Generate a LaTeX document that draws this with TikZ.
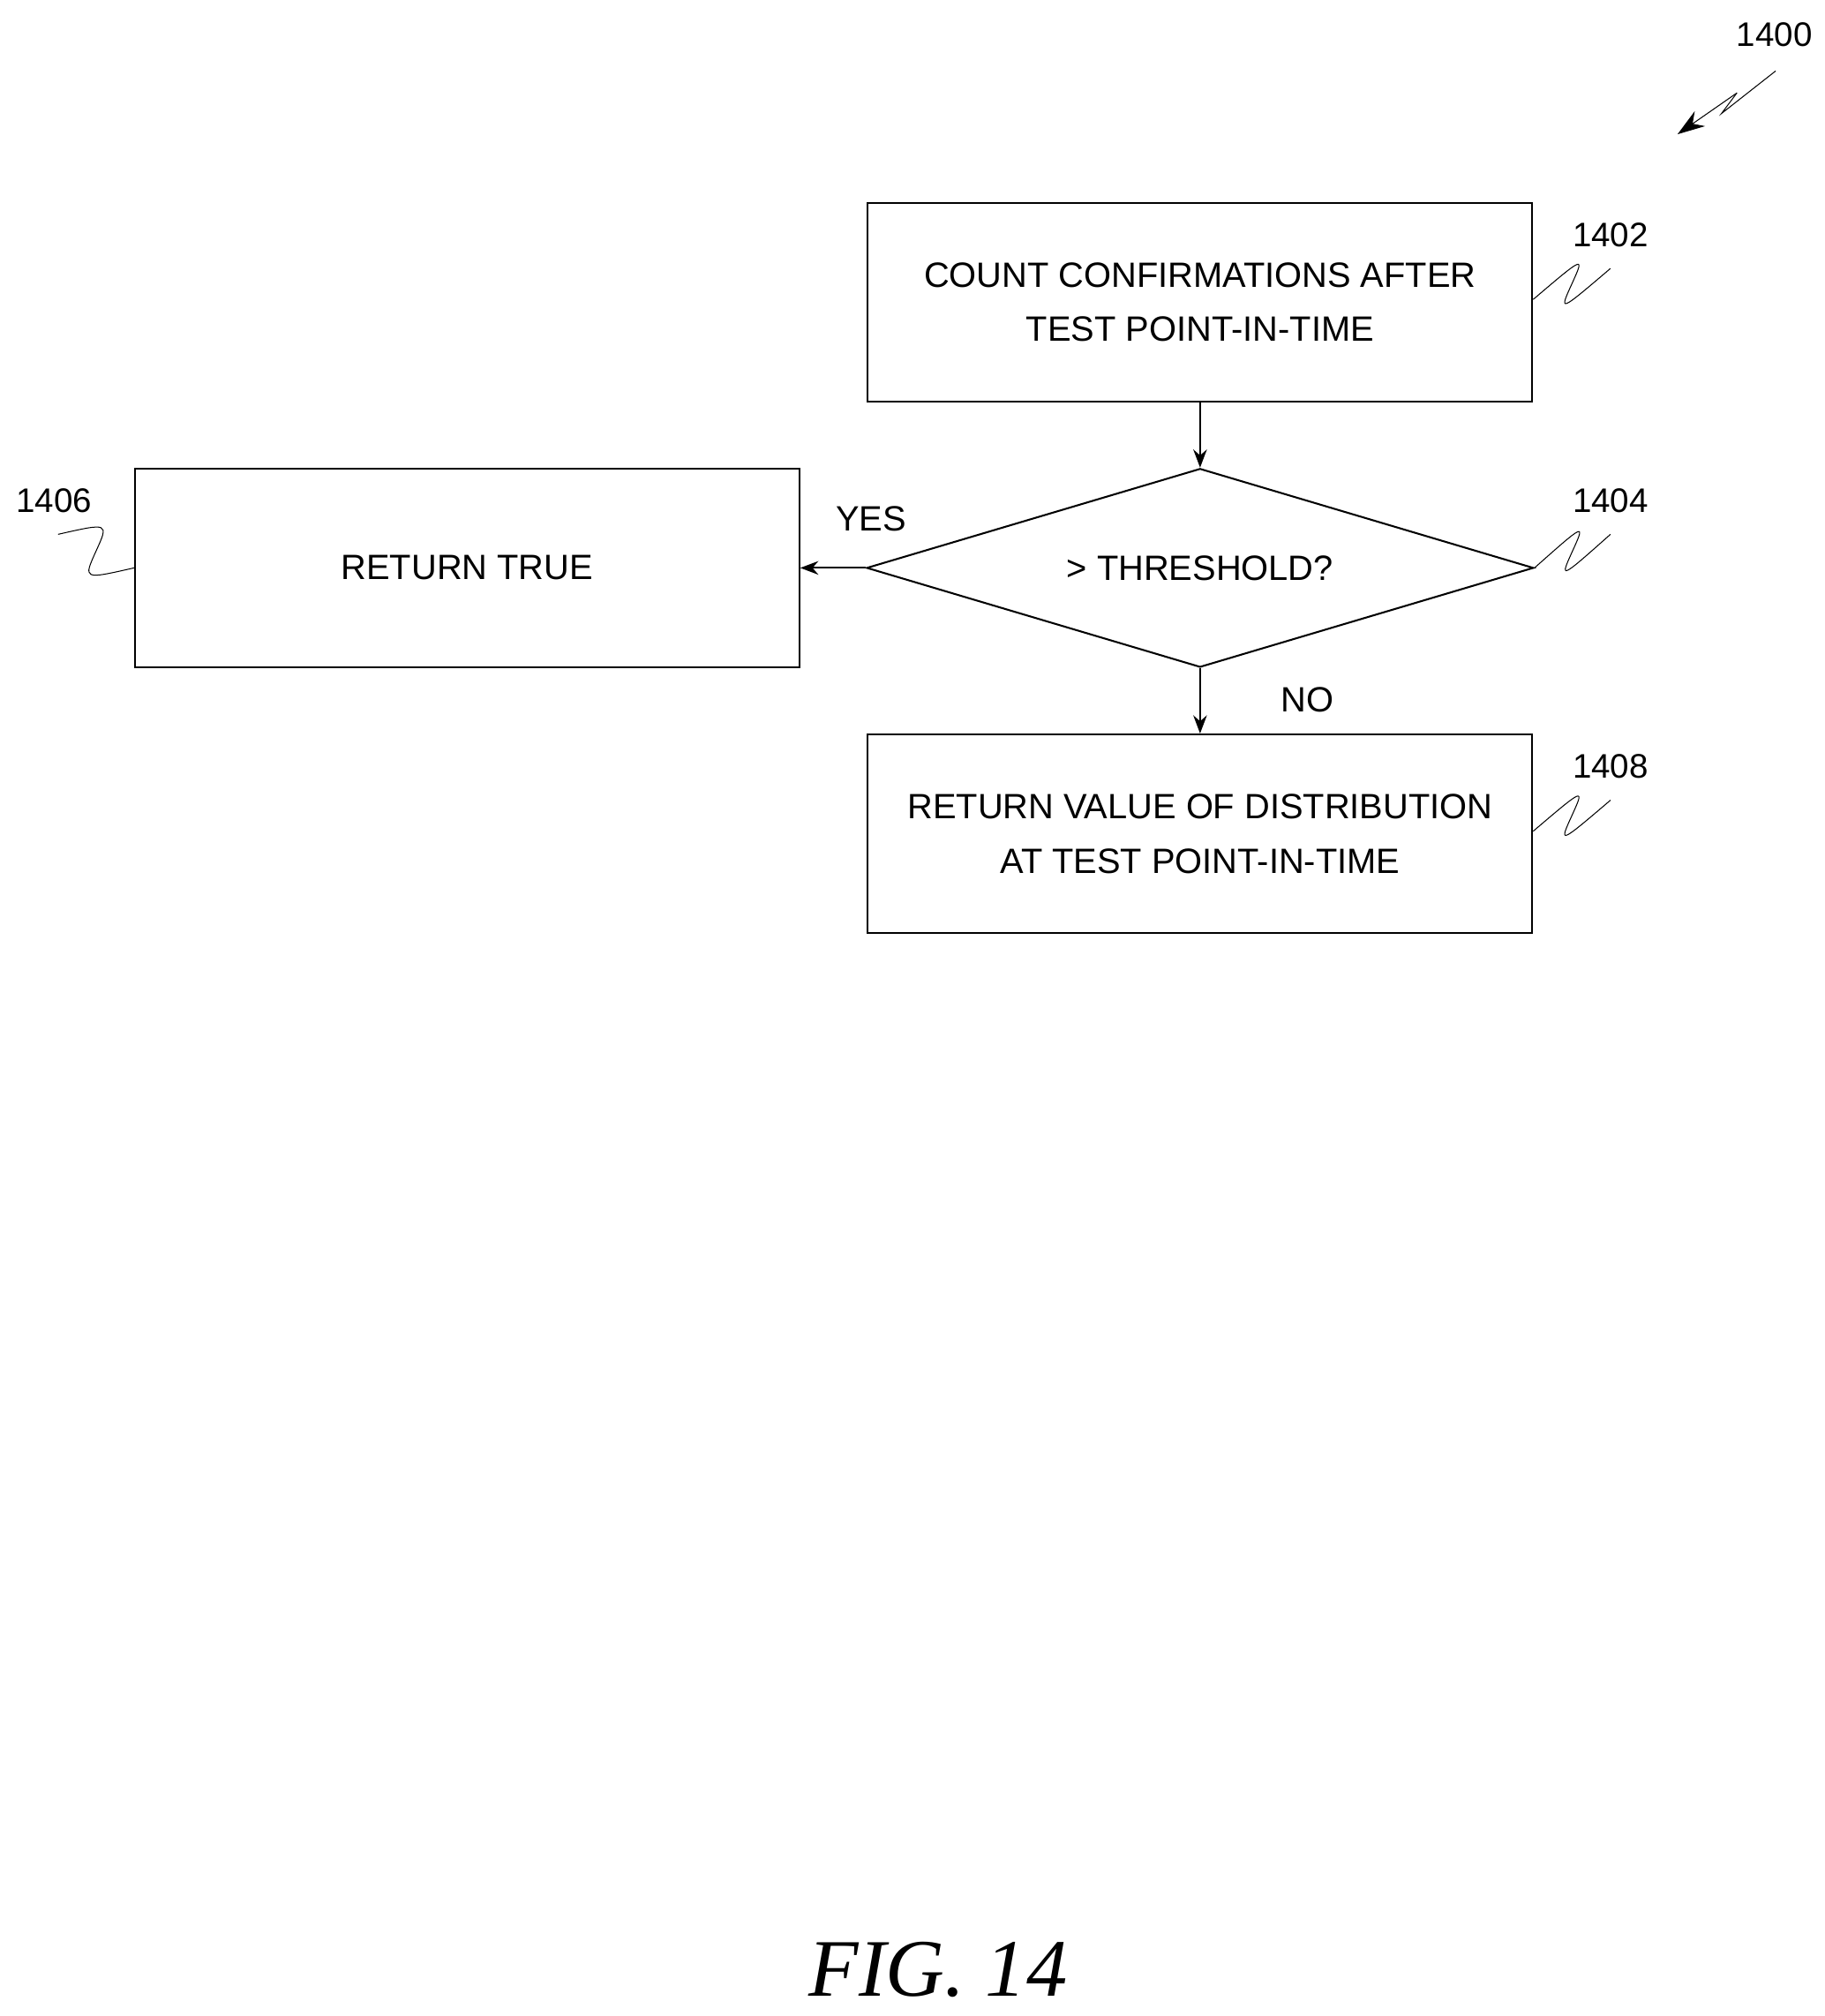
\documentclass[tikz,border=0pt]{standalone}
\usepackage{fontspec}
\setmainfont{Liberation Sans}
\newfontfamily\figfont{Liberation Serif}
\usetikzlibrary{arrows.meta, shapes.geometric, calc}

\tikzset{
  procbox/.style={draw, thick, minimum width=10.3cm, minimum height=3.08cm, align=center, font=\fontsize{15.5}{24}\selectfont},
  test/.style={draw, thick, diamond, aspect=3.36, minimum width=10.34cm, minimum height=3.08cm, inner sep=0pt, font=\fontsize{15.5}{24}\selectfont},
  flow/.style={-{Stealth[length=8pt]}, thick},
  refnum/.style={font=\fontsize{15}{18}\selectfont},
  squig/.style={thin}
}
\newcommand{\refsquig}[2]{% from #1 to #2 with a small wiggle
  \draw[squig] (#1) .. controls ($(#1)!0.5!(#2)+(10,-22)$) .. ($(#1)!0.5!(#2)$) .. controls ($(#1)!0.5!(#2)+(-10,22)$) .. (#2);}

\begin{document}
\begin{tikzpicture}[x=0.02cm, y=-0.02cm]
        \useasboundingbox (0,0) rectangle (1414,1562);

        % blocks
        \node[procbox] (count) at (930,234) {COUNT CONFIRMATIONS AFTER\\TEST POINT-IN-TIME};
        \node[test] (thresh) at (930,440) {> THRESHOLD?};
        \node[procbox] (true) at (362,440) {RETURN TRUE};
        \node[procbox] (value) at (930,646) {RETURN VALUE OF DISTRIBUTION\\AT TEST POINT-IN-TIME};

        % connectors
        \draw[flow] (count.south) -- (thresh.north);
        \draw[flow] (thresh.west) -- (true.east);
        \draw[flow] (thresh.south) -- (value.north);
        \node[font=\fontsize{15.5}{20}\selectfont] (yes) at (675,402) {YES};
        \node[font=\fontsize{15.5}{20}\selectfont] (no) at (1013,542) {NO};

        % reference numerals
        \node[refnum] (n1402) at (1248,182) {1402};
        \node[refnum] (n1404) at (1248,388) {1404};
        \node[refnum] (n1406) at (42,388) {1406};
        \node[refnum] (n1408) at (1248,594) {1408};
        \node[refnum] (n1400) at (1375,27) {1400};
        \coordinate (c1402) at (1248,208);
        \coordinate (c1404) at (1248,414);
        \coordinate (c1406) at (45,414);
        \coordinate (c1408) at (1248,620);
        \refsquig{count.east |- 0,232}{c1402}
        \refsquig{thresh.east}{c1404}
        \refsquig{c1406}{true.west}
        \refsquig{value.east |- 0,644}{c1408}

        % figure arrow
        \coordinate (a0) at (1376,55);
        \coordinate (a1) at (1334,88);
        \coordinate (a2) at (1346,72);
        \coordinate (a3) at (1300,104);
        \draw[thin] (a0) -- (a1) -- (a2);
        \draw[-{Stealth[length=12pt, width=8pt]}, thin] (a2) -- (a3);

        % caption
        \node[font=\figfont\itshape\fontsize{36}{40}\selectfont] (fig) at (727,1526) {FIG. 14};
    \end{tikzpicture}
\end{document}
